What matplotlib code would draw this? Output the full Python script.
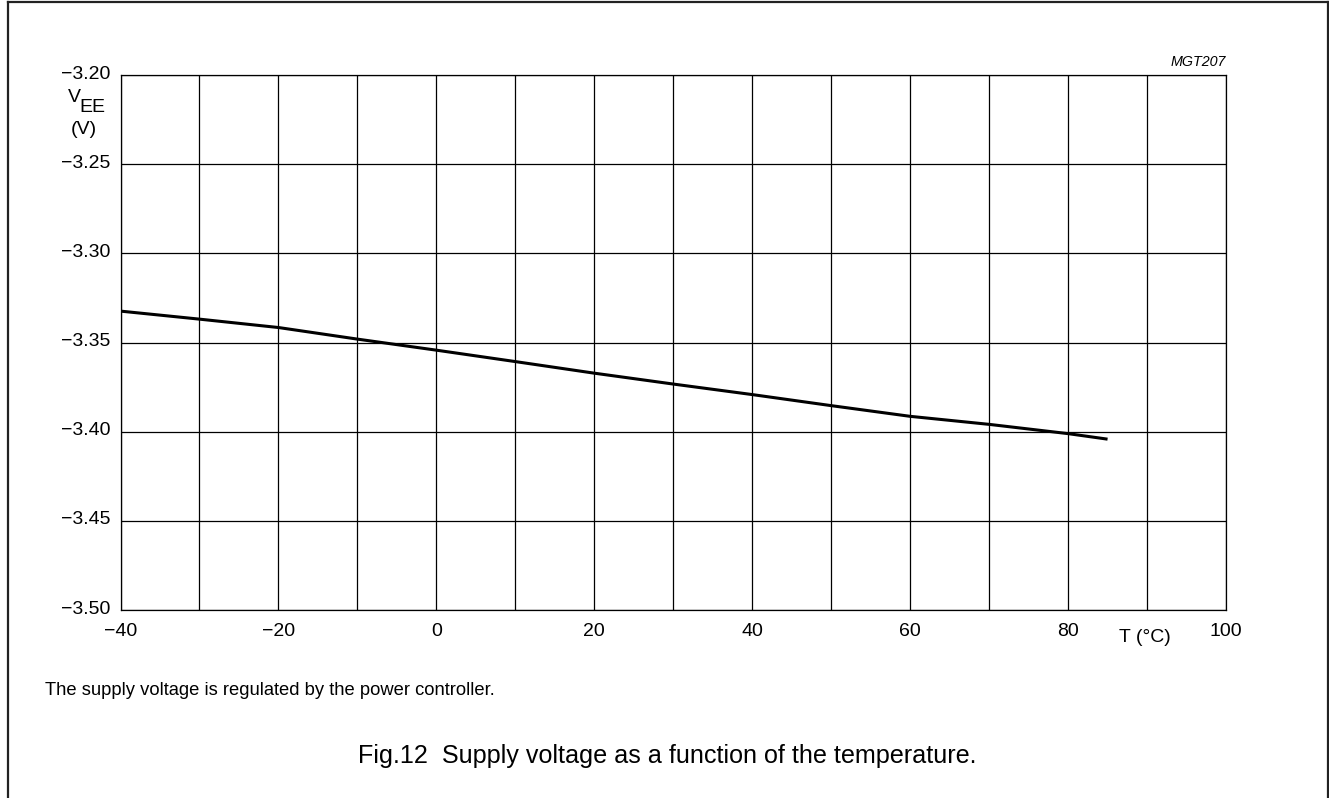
import matplotlib
matplotlib.use("Agg")
import matplotlib.pyplot as plt
from matplotlib.lines import Line2D

plt.rcParams['font.family'] = ['Liberation Sans', 'DejaVu Sans']

# Data
temp_c = [-40, -30, -20, -10, 0, 10, 20, 30, 40, 50, 60, 70, 80, 85]
vee_v = [-3.3324, -3.3369, -3.3416, -3.3481, -3.3543, -3.3607, -3.3672,
         -3.3733, -3.3792, -3.3854, -3.3914, -3.3959, -3.4011, -3.4042]

x_ticks = [-40, -20, 0, 20, 40, 60, 80, 100]
x_tick_labels = ['\u221240', '\u221220', '0', '20', '40', '60', '80', '100']
y_ticks = [-3.50, -3.45, -3.40, -3.35, -3.30, -3.25, -3.20]
y_tick_labels = ['\u22123.50', '\u22123.45', '\u22123.40', '\u22123.35',
                 '\u22123.30', '\u22123.25', '\u22123.20']

W, H = 1329, 798
fig = plt.figure(figsize=(W / 100, H / 100), dpi=100)

x0, x1, ytop, ybot = 120.5, 1226, 75, 610
ax = fig.add_axes([x0 / W, 1 - ybot / H, (x1 - x0) / W, (ybot - ytop) / H])
ax.set_xlim(-40, 100)
ax.set_ylim(-3.50, -3.20)

ax.set_xticks(range(-40, 101, 10))
ax.set_yticks(y_ticks)
ax.grid(True, color='black', linewidth=0.9)
ax.tick_params(length=0, labelleft=False, labelbottom=False)
for s in ax.spines.values():
    s.set_linewidth(0.9)

ax.plot(temp_c, vee_v, color='black', linewidth=2.2, solid_capstyle='butt')

FS = 14
# y tick labels
for v, lab in zip(y_ticks, y_tick_labels):
    ax.annotate(lab, xy=(0, v), xycoords=('axes fraction', 'data'),
                xytext=(-10, 1), textcoords='offset pixels',
                ha='right', va='center', fontsize=FS)
# x tick labels
for t, lab in zip(x_ticks, x_tick_labels):
    ax.annotate(lab, xy=(t, 0), xycoords=('data', 'axes fraction'),
                xytext=(0, -21), textcoords='offset pixels',
                ha='center', va='center', fontsize=FS)

# axis labels
fig.text(1145 / W, 1 - 638 / H, 'T (\u00b0C)', ha='center', va='center', fontsize=FS)
fig.text(74 / W, 1 - 98 / H, 'V', ha='center', va='center', fontsize=FS)
fig.text(92 / W, 1 - 108 / H, 'EE', ha='center', va='center', fontsize=FS)
fig.text(84 / W, 1 - 129 / H, '(V)', ha='center', va='center', fontsize=FS)

fig.text(1226 / W, 1 - 62 / H, 'MGT207', ha='right', va='center', fontsize=10.3, style='italic')

fig.text(45 / W, 1 - 695 / H, 'The supply voltage is regulated by the power controller.',
         ha='left', va='baseline', fontsize=13.2)
fig.text(667 / W, 1 - 763 / H, 'Fig.12  Supply voltage as a function of the temperature.',
         ha='center', va='baseline', fontsize=18.1)

# page frame (left, top, right)
fig.add_artist(Line2D([8 / W, 8 / W], [0, 1 - 2 / H], color='#222222', linewidth=1.6,
                      transform=fig.transFigure))
fig.add_artist(Line2D([8 / W, 1328 / W], [1 - 2 / H, 1 - 2 / H], color='#222222',
                      linewidth=1.6, transform=fig.transFigure))
fig.add_artist(Line2D([1328 / W, 1328 / W], [0, 1 - 2 / H], color='#222222', linewidth=1.6,
                      transform=fig.transFigure))

fig.savefig('out.png', dpi=100)
